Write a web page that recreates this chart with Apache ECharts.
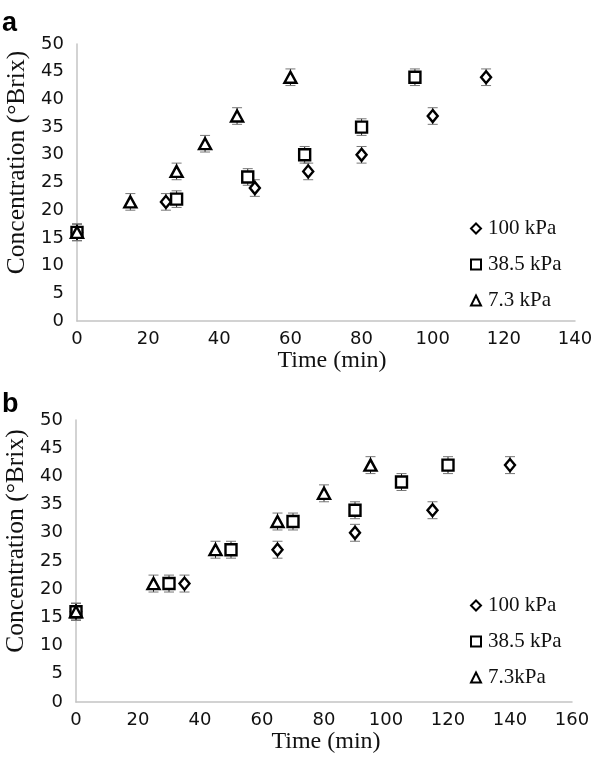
<!DOCTYPE html>
<html>
<head>
<meta charset="utf-8">
<script src="https://cdn.jsdelivr.net/npm/echarts@6/dist/echarts.min.js"></script>
<style>html,body{margin:0;padding:0;background:#fff}#c{width:597px;height:762px}</style>
</head>
<body>
<div id="c"></div>
<script>
// Panel a
const aNames = ['100 kPa', '38.5 kPa', '7.3 kPa'];
const a100T = [0, 25, 50, 65, 80, 100, 115];
const a100V = [16, 21.5, 24, 27, 30, 37, 44];
const a100E = [1.5, 1.5, 1.5, 1.5, 1.5, 1.5, 1.5];
const a385T = [0, 28, 48, 64, 80, 95];
const a385V = [16, 22, 26, 30, 35, 44];
const a385E = [1.5, 1.5, 1.5, 1.5, 1.5, 1.5];
const a73T = [0, 15, 28, 36, 45, 60];
const a73V = [16, 21.5, 27, 32, 37, 44];
const a73E = [1.5, 1.5, 1.5, 1.5, 1.5, 1.5];
// Panel b
const bNames = ['100 kPa', '38.5 kPa', '7.3kPa'];
const b100T = [0, 35, 65, 90, 115, 140];
const b100V = [16, 21, 27, 30, 34, 42];
const b100E = [1.5, 1.5, 1.5, 1.5, 1.5, 1.5];
const b385T = [0, 30, 50, 70, 90, 105, 120];
const b385V = [16, 21, 27, 32, 34, 39, 42];
const b385E = [1.5, 1.5, 1.5, 1.5, 1.5, 1.5, 1.5];
const b73T = [0, 25, 45, 65, 80, 95];
const b73V = [16, 21, 27, 32, 37, 42];
const b73E = [1.5, 1.5, 1.5, 1.5, 1.5, 1.5];

const xTitle = 'Time (min)';
const yTitle = 'Concentration (°Brix)';

const chart = echarts.init(document.getElementById('c'), null, {renderer: 'canvas'});

function pts(t, v) { return t.map((x, i) => [x, v[i]]); }
function errs(t, v, e) { return t.map((x, i) => [x, v[i] - e[i], v[i] + e[i]]); }

function errSeries(idx, t, v, e) {
  return {
    type: 'custom', xAxisIndex: idx, yAxisIndex: idx, z: 1, silent: true,
    data: errs(t, v, e),
    renderItem: function (params, api) {
      const x = api.value(0);
      const lo = api.coord([x, api.value(1)]);
      const hi = api.coord([x, api.value(2)]);
      const hw = 5;
      return {
        type: 'group',
        children: [
          {type: 'line', shape: {x1: lo[0], y1: lo[1], x2: hi[0], y2: hi[1]}, style: {stroke: '#222', lineWidth: 1}},
          {type: 'line', shape: {x1: lo[0] - hw, y1: lo[1], x2: lo[0] + hw, y2: lo[1]}, style: {stroke: '#777', lineWidth: 1}},
          {type: 'line', shape: {x1: hi[0] - hw, y1: hi[1], x2: hi[0] + hw, y2: hi[1]}, style: {stroke: '#777', lineWidth: 1}}
        ]
      };
    }
  };
}

const mk = {
  diamond: {symbol: 'diamond', symbolSize: [10, 12]},
  rect: {symbol: 'rect', symbolSize: 11},
  tri: {symbol: 'triangle', symbolSize: [12, 11]}
};
function scat(idx, name, t, v, m) {
  return {
    type: 'scatter', name: name, xAxisIndex: idx, yAxisIndex: idx, z: 3,
    symbol: m.symbol, symbolSize: m.symbolSize,
    itemStyle: {color: '#fff', borderColor: '#000', borderWidth: 2.4, opacity: 1},
    data: pts(t, v)
  };
}

const axisLine = {show: true, lineStyle: {color: '#c4c4c4', width: 1.5}};
const tickLbl = {color: '#111', fontFamily: 'DejaVu Sans', fontSize: 18};

function xAx(idx, max, shift) {
  return {
    type: 'value', gridIndex: idx, min: 0, max: max, interval: 20,
    axisLine: axisLine, axisTick: {show: false}, splitLine: {show: false},
    axisLabel: Object.assign({margin: 9}, tickLbl),
    name: xTitle, nameLocation: 'middle', nameGap: 19,
    nameTextStyle: {color: '#111', fontFamily: 'Liberation Serif', fontSize: 24, padding: [0, 0, 0, shift]}
  };
}
function yAx(idx) {
  return {
    type: 'value', gridIndex: idx, min: 0, max: 50, interval: 5,
    axisLine: axisLine, axisTick: {show: false}, splitLine: {show: false},
    axisLabel: Object.assign({margin: 13}, tickLbl),
    name: yTitle, nameLocation: 'middle', nameGap: 46,
    nameTextStyle: {color: '#111', fontFamily: 'Liberation Serif', fontSize: 25.5, padding: [0, 0, 0, 40]}
  };
}

function legend(top, names) {
  return {
    orient: 'vertical', left: 465, top: top, itemGap: 15,
    itemWidth: 10, itemHeight: 10,
    itemStyle: {borderWidth: 2},
    textStyle: {color: '#111', fontFamily: 'Liberation Serif', fontSize: 21, padding: [0, 0, 0, 2]},
    data: names
  };
}

const panelLbl = {fontFamily: 'Liberation Sans', fontWeight: 'bold', fontSize: 27, color: '#000'};

chart.setOption({
  backgroundColor: '#fff',
  animation: false,
  title: [
    {text: 'a', left: -3, top: 5, textStyle: panelLbl},
    {text: 'b', left: -3, top: 386, textStyle: panelLbl}
  ],
  legend: [legend(213, aNames), legend(590, bNames)],
  grid: [
    {left: 77, top: 44, width: 498, height: 277, containLabel: false, outerBoundsMode: 'none'},
    {left: 76, top: 420, width: 496, height: 282, containLabel: false, outerBoundsMode: 'none'}
  ],
  xAxis: [xAx(0, 140, 12), xAx(1, 160, 4)],
  yAxis: [yAx(0), yAx(1)],
  series: [
    errSeries(0, a100T, a100V, a100E),
    errSeries(0, a385T, a385V, a385E),
    errSeries(0, a73T, a73V, a73E),
    scat(0, aNames[0], a100T, a100V, mk.diamond),
    scat(0, aNames[1], a385T, a385V, mk.rect),
    scat(0, aNames[2], a73T, a73V, mk.tri),
    errSeries(1, b100T, b100V, b100E),
    errSeries(1, b385T, b385V, b385E),
    errSeries(1, b73T, b73V, b73E),
    scat(1, bNames[0], b100T, b100V, mk.diamond),
    scat(1, bNames[1], b385T, b385V, mk.rect),
    scat(1, bNames[2], b73T, b73V, mk.tri)
  ]
});
</script>
</body>
</html>
